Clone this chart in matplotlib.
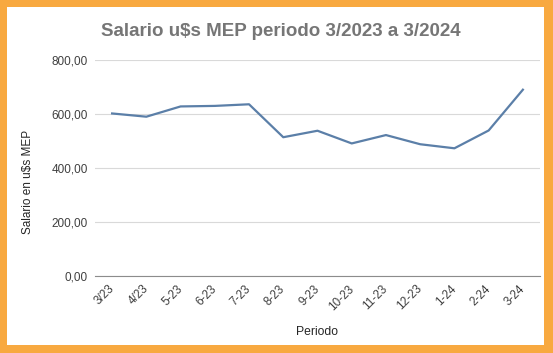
import matplotlib.pyplot as plt
from matplotlib.patches import Rectangle
from matplotlib.transforms import ScaledTranslation

plt.rcParams["font.family"] = ["Liberation Sans", "DejaVu Sans"]

# --- DATEN ---
periodos = ["3/23", "4/23", "5-23", "6-23", "7-23", "8-23", "9-23",
            "10-23", "11-23", "12-23", "1-24", "2-24", "3-24"]
salario_mep = [602, 590, 628, 630, 636, 514, 538, 491, 522, 488, 473, 539, 690]
y_ticks = [0, 200, 400, 600, 800]
y_tick_labels = ["0,00", "200,00", "400,00", "600,00", "800,00"]

W, H = 553, 353
fig = plt.figure(figsize=(W / 100, H / 100), dpi=100)
fig.patch.set_facecolor("#F8A940")

# weisser Innenbereich mit orangem Rahmen
fig.patches.append(Rectangle((7 / W, 8 / H), (544 - 7) / W, (346 - 8) / H,
                             transform=fig.transFigure, facecolor="white",
                             edgecolor="none", zorder=-10))

ax = fig.add_axes([95 / W, 1 - 276 / H, (540 - 95) / W, (276 - 60) / H])
ax.set_facecolor("none")

x = list(range(len(periodos)))
ax.plot(x, salario_mep, color="#5B7FA8", linewidth=1.6, zorder=3)

ax.set_xlim(-0.5, len(periodos) - 0.5)
ax.set_ylim(0, 800)
ax.set_yticks(y_ticks)
ax.set_yticklabels(y_tick_labels)
ax.set_xticks(x)
ax.set_xticklabels(periodos, rotation=45, ha="right", va="center",
                   rotation_mode="anchor")
# Beschriftungen etwas nach rechts schieben (wie im Original)
verschiebung = ScaledTranslation(4 / 100, 0, fig.dpi_scale_trans)
for lbl in ax.get_xticklabels():
    lbl.set_transform(lbl.get_transform() + verschiebung)

ax.grid(axis="y", color="#D9D9D9", linewidth=0.8)
ax.set_axisbelow(True)
for side in ["top", "right", "left"]:
    ax.spines[side].set_visible(False)
ax.spines["bottom"].set_color("#8C8C8C")
ax.spines["bottom"].set_linewidth(0.8)

ax.tick_params(axis="both", length=0, labelsize=8.5, labelcolor="#404040")
ax.tick_params(axis="y", pad=5)
ax.tick_params(axis="x", pad=8)

fig.text(281 / W, 1 - 31 / H, "Salario u$s MEP periodo 3/2023 a 3/2024",
         ha="center", va="center", fontsize=13.5, fontweight="bold",
         color="#767676")
fig.text(317 / W, 1 - 332 / H, "Periodo", ha="center", va="center",
         fontsize=8.7, color="#262626")
fig.text(28 / W, 1 - 182 / H, "Salario en u$s MEP", ha="center", va="center",
         rotation=90, fontsize=8.5, color="#262626")

fig.savefig("out.png", dpi=100, facecolor=fig.get_facecolor())
